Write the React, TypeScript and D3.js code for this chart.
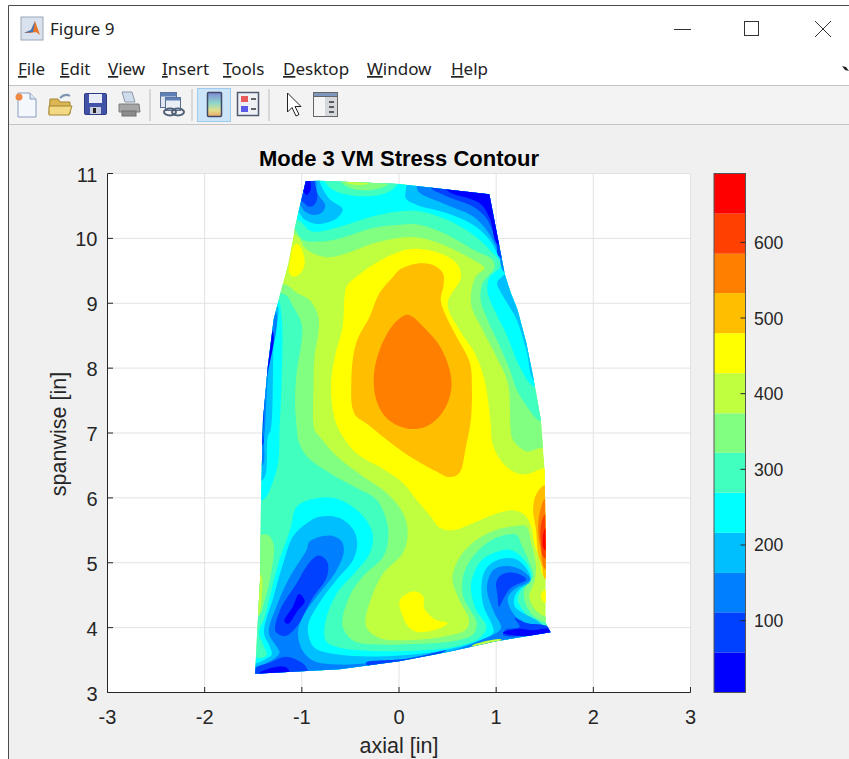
import React from "react";
import * as d3 from "d3";

type P = [number, number];

const menuItems = ["File", "Edit", "View", "Insert", "Tools", "Desktop", "Window", "Help"];
const menuX = [18, 60, 108, 162, 223, 283, 367, 451];
const xTicks = [-3, -2, -1, 0, 1, 2, 3];
const yTicks = [3, 4, 5, 6, 7, 8, 9, 10, 11];
const cbarTicks = [100, 200, 300, 400, 500, 600];
const levelEdges = [5, 58, 111, 163, 216, 269, 322, 374, 427, 480, 533, 585, 638, 691];
const levelColors = ["#0000ff", "#0040ff", "#0080ff", "#00bfff", "#00ffff", "#40ffbf", "#80ff80", "#bfff40", "#ffff00", "#ffbf00", "#ff8000", "#ff4000", "#ff0000"];

const bladeOutline: P[] = [[-0.96,10.88],[-0.82,10.89],[-0.51,10.87],[0,10.84],[0.93,10.68],[0.98,10.29],[1.09,9.44],[1.15,9.16],[1.22,8.9],[1.31,8.39],[1.38,7.87],[1.46,7.21],[1.5,6.44],[1.51,5.15],[1.51,4.07],[1.56,3.93],[1,3.79],[0.49,3.62],[0,3.48],[-0.61,3.36],[-1.48,3.29],[-1.46,3.92],[-1.43,4.74],[-1.42,6],[-1.4,7.2],[-1.35,8.03],[-1.29,8.75],[-1.19,9.34],[-1.14,9.62],[-1.07,10.18]];

const yellowMain: P[] = [[-0.54,9.26],[-0.44,9.41],[-0.13,9.71],[0.14,9.84],[0.42,9.77],[0.59,9.62],[0.64,9.41],[0.5,9],[0.62,8.59],[0.78,8.23],[0.88,7.82],[0.94,7.21],[0.97,6.8],[1.1,6.49],[1.27,6.36],[1.5,6.46],[1.79,6.54],[1.79,4.79],[1.49,4.79],[1.45,5.05],[1.39,5.31],[1.36,5.56],[1.29,5.74],[1.17,5.81],[0.97,5.74],[0.76,5.61],[0.55,5.5],[0.42,5.54],[0.32,5.72],[0.18,5.97],[0.04,6.23],[-0.16,6.44],[-0.44,6.69],[-0.58,6.95],[-0.66,7.21],[-0.7,7.72],[-0.66,8.18],[-0.58,8.64],[-0.56,9.11]];
const amberMain: P[] = [[0.01,9.52],[0.18,9.61],[0.35,9.59],[0.45,9.47],[0.46,9.29],[0.43,9.05],[0.47,8.85],[0.59,8.49],[0.73,8.08],[0.75,7.72],[0.74,7.21],[0.69,6.8],[0.62,6.38],[0.52,6.32],[0.38,6.41],[0.08,6.67],[-0.13,6.9],[-0.32,7.13],[-0.46,7.3],[-0.49,7.82],[-0.44,8.39],[-0.3,8.8],[-0.2,9.16],[-0.06,9.41]];
const orangeMain: P[] = [[0.07,8.82],[0.13,8.8],[0.28,8.59],[0.42,8.34],[0.52,7.98],[0.54,7.72],[0.5,7.46],[0.4,7.23],[0.28,7.1],[0.14,7.06],[0.01,7.1],[-0.13,7.23],[-0.23,7.49],[-0.26,7.87],[-0.2,8.28],[-0.06,8.67]];
const yellowBumpTop: P[] = [[-1.05,9.92],[-1,9.83],[-0.97,9.62],[-1.01,9.47],[-1.08,9.41],[-1.13,9.47],[-1.12,9.67],[-1.09,9.87]];
const yellowBumpLow: P[] = [[0.01,4.43],[0.16,4.56],[0.25,4.48],[0.26,4.3],[0.38,4.12],[0.5,4.07],[0.42,3.99],[0.21,3.93],[0.11,3.99],[0.04,4.17]];
const yellowBumpEdge: P[] = [[1.51,4.59],[1.46,4.48],[1.51,4.38],[1.7,4.48]];
const stripAmber: P[] = [[1.5,6.2],[1.41,6.05],[1.38,5.82],[1.41,5.51],[1.43,5.15],[1.47,4.95],[1.51,4.74],[1.79,4.74],[1.79,6.2]];
const stripOrange: P[] = [[1.51,6],[1.46,5.84],[1.43,5.51],[1.46,5.2],[1.51,4.89],[1.79,4.89],[1.79,6]];
const stripFlame: P[] = [[1.51,5.75],[1.46,5.56],[1.46,5.31],[1.5,5.07],[1.79,5.07],[1.79,5.75]];
const stripRed: P[] = [[1.52,5.55],[1.48,5.38],[1.5,5.2],[1.79,5.2],[1.79,5.55]];

const greenTop: P[] = [[-1.07,10.06],[-0.95,9.83],[-0.75,9.71],[-0.54,9.77],[-0.27,9.92],[0.01,10.01],[0.21,10.01],[0.49,9.88],[0.76,9.67],[0.88,9.54],[0.79,9.41],[0.74,9],[0.86,8.59],[1,8.18],[1.12,7.77],[1.15,7.05],[1.17,6.9],[1.31,6.72],[1.46,6.77],[1.8,6.77],[1.8,11.2],[-1.5,11.2],[-1.5,10.06]];
const greenLow: P[] = [[-1.5,9.29],[-1.17,9.29],[-1.05,9.16],[-0.92,9.05],[-0.83,8.8],[-0.83,8.54],[-0.87,8.18],[-0.88,7.72],[-0.87,7.05],[-0.82,6.95],[-0.64,6.64],[-0.37,6.33],[-0.13,6.08],[0.04,5.77],[0.09,5.46],[0.04,5.15],[-0.16,4.84],[-0.28,4.48],[-0.34,4.02],[-0.2,3.84],[0.14,3.81],[0.49,3.87],[0.69,3.97],[0.72,4.12],[0.62,4.43],[0.55,4.74],[0.61,5.05],[0.76,5.31],[0.97,5.49],[1.17,5.56],[1.31,5.56],[1.36,5.31],[1.41,4.95],[1.39,4.69],[1.34,4.48],[1.4,4.28],[1.51,4.17],[1.8,4.17],[1.8,2.9],[-1.6,2.9],[-1.6,9.29]];
const mintTop: P[] = [[-1.09,10.16],[-0.99,9.98],[-0.82,9.95],[-0.61,10],[-0.27,10.16],[0.01,10.21],[0.21,10.21],[0.49,10.06],[0.76,9.83],[0.97,9.66],[0.98,9.54],[0.86,9.31],[0.84,9.05],[0.91,8.75],[1.02,8.39],[1.14,7.98],[1.21,7.67],[1.34,7.36],[1.46,7.18],[1.8,7.18],[1.8,11.2],[-1.5,11.2],[-1.5,10.16]];
const mintLow: P[] = [[-1.5,9.2],[-1.17,9.13],[-1.09,8.95],[-1,8.67],[-1.01,8.34],[-1.05,7.98],[-1.07,7.46],[-1.05,7.05],[-1.04,6.9],[-0.95,6.64],[-0.71,6.38],[-0.47,6.18],[-0.23,5.97],[-0.13,5.66],[-0.11,5.41],[-0.16,5.1],[-0.37,4.79],[-0.51,4.48],[-0.58,4.02],[-0.46,3.79],[-0.16,3.74],[0.21,3.75],[0.55,3.79],[0.76,3.89],[0.8,4.07],[0.73,4.28],[0.66,4.48],[0.66,4.79],[0.74,5.05],[0.91,5.31],[1.1,5.43],[1.21,5.43],[1.26,5.28],[1.33,5.05],[1.38,4.79],[1.29,4.59],[1.3,4.38],[1.39,4.17],[1.53,4.07],[1.8,4.07],[1.8,2.9],[-1.6,2.9],[-1.6,9.2]];
const greenLobe: P[] = [[-1.42,5.43],[-1.35,5.43],[-1.29,5.28],[-1.31,4.89],[-1.38,4.43],[-1.45,4.17],[-1.6,4.17],[-1.6,5.43]];
const limeSliver: P[] = [[-1.43,4.84],[-1.41,4.53],[-1.46,4.17],[-1.6,4.17],[-1.6,4.84]];
const cyanTop: P[] = [[-1.05,10.29],[-0.9,10.11],[-0.61,10.18],[-0.27,10.34],[0.01,10.42],[0.21,10.42],[0.49,10.29],[0.76,10.06],[0.93,9.83],[1.05,9.59],[0.93,9.39],[0.91,9.18],[0.98,8.9],[1.1,8.54],[1.24,8.03],[1.39,7.72],[1.8,7.72],[1.8,11.2],[-1.5,11.2],[-1.5,10.29]];
const cyanLeft: P[] = [[-1.26,9.08],[-1.21,8.8],[-1.21,7.72],[-1.23,7.05],[-1.24,6.59],[-1.29,6.28],[-1.4,5.97],[-1.6,5.97],[-1.6,9.08]];
const cyanLow: P[] = [[-1.05,5.87],[-0.83,6],[-0.61,5.97],[-0.37,5.72],[-0.27,5.43],[-0.3,5.15],[-0.44,4.87],[-0.64,4.53],[-0.76,4.07],[-0.75,3.79],[-0.61,3.69],[-0.27,3.64],[0.25,3.65],[0.59,3.71],[0.83,3.84],[0.9,4.02],[0.79,4.28],[0.74,4.59],[0.76,4.79],[0.86,5.05],[1.14,5.2],[1.31,5],[1.36,4.74],[1.26,4.59],[1.22,4.43],[1.27,4.28],[1.41,4.07],[1.53,4.01],[1.8,4.01],[1.8,2.9],[-1.6,2.9],[-1.6,3.53],[-1.41,3.53],[-1.36,3.58],[-1.39,3.71],[-1.44,3.92],[-1.38,4.17],[-1.31,4.59],[-1.23,5.05],[-1.12,5.51]];
const islandMint: P[] = [[-0.79,10.95],[-0.68,10.75],[-0.41,10.65],[-0.13,10.7],[-0.01,10.85],[-0.01,11.1],[-0.79,11.1]];
const islandGreen: P[] = [[-0.64,10.95],[-0.51,10.78],[-0.27,10.75],[-0.1,10.85],[-0.1,11.1],[-0.64,11.1]];
const islandLime: P[] = [[-0.6,10.92],[-0.47,10.83],[-0.3,10.86],[-0.3,11.1],[-0.6,11.1]];

const skyTopRight: P[] = [[0.08,11.06],[0.08,10.85],[0.07,10.62],[0.18,10.52],[0.49,10.39],[0.76,10.21],[0.93,9.98],[1.03,9.7],[1.09,9.47],[1.01,9.32],[1.07,9.11],[1.21,8.75],[1.31,8.28],[1.41,7.77],[1.8,7.77],[1.8,11.1]];
const azureTopRight: P[] = [[0.18,10.83],[0.2,10.72],[0.49,10.52],[0.76,10.34],[0.91,10.11],[1.02,9.8],[1.09,9.47],[1.5,9.47],[1.5,11.1],[0.18,11.1]];
const royalTopRight: P[] = [[0.32,10.8],[0.49,10.65],[0.76,10.49],[0.9,10.31],[1,9.95],[1.03,9.72],[1.3,9.72],[1.3,11.1],[0.32,11.1]];
const blueTopRight: P[] = [[0.49,10.75],[0.73,10.61],[0.85,10.52],[0.94,10.29],[1.02,9.9],[1.3,9.9],[1.3,11.1],[0.49,11.1]];
const skyTopLeft: P[] = [[-0.82,10.9],[-0.78,10.75],[-0.71,10.6],[-0.58,10.45],[-0.64,10.31],[-0.83,10.22],[-0.97,10.29],[-1.05,10.42],[-1.4,10.42],[-1.4,11.1],[-0.82,11.1]];
const azureTopLeft: P[] = [[-0.85,10.9],[-0.84,10.7],[-0.76,10.52],[-0.78,10.42],[-0.87,10.36],[-0.97,10.42],[-1.03,10.52],[-1.4,10.52],[-1.4,11.1],[-0.85,11.1]];
const royalTopLeft: P[] = [[-0.87,10.88],[-0.84,10.65],[-0.87,10.52],[-0.93,10.49],[-1,10.57],[-1.4,10.57],[-1.4,11.1],[-0.87,11.1]];
const blueTopLeft: P[] = [[-0.91,10.88],[-0.91,10.75],[-0.95,10.67],[-0.99,10.72],[-1.2,10.72],[-1.2,11.1],[-0.91,11.1]];
const skyLeft: P[] = [[-1.26,8.98],[-1.29,8.39],[-1.32,7.05],[-1.35,6.95],[-1.4,6.28],[-1.6,6.28],[-1.6,8.98]];
const azureLeft: P[] = [[-1.28,8.9],[-1.35,7.87],[-1.38,7.05],[-1.39,6.9],[-1.41,6.49],[-1.6,6.49],[-1.6,8.9]];
const blueLeft: P[] = [[-1.31,8.59],[-1.37,7.77],[-1.4,7.05],[-1.41,6.8],[-1.6,6.8],[-1.6,8.59]];
const skyLow: P[] = [[-0.95,5.61],[-0.82,5.71],[-0.61,5.69],[-0.47,5.51],[-0.43,5.31],[-0.47,5.05],[-0.64,4.74],[-0.82,4.38],[-0.93,4.07],[-0.93,3.87],[-0.87,3.69],[-0.61,3.58],[-0.13,3.56],[0.42,3.64],[0.81,3.79],[0.97,3.92],[0.95,4.07],[0.87,4.33],[0.85,4.69],[0.9,4.92],[1.03,5.05],[1.21,5.05],[1.34,4.84],[1.35,4.71],[1.24,4.59],[1.19,4.48],[1.19,4.33],[1.27,4.23],[1.41,4.12],[1.53,4],[1.8,4],[1.8,2.9],[-1.6,2.9],[-1.6,3.45],[-1.47,3.45],[-1.38,3.51],[-1.31,3.58],[-1.33,3.71],[-1.39,3.92],[-1.29,4.48],[-1.19,5],[-1.09,5.41]];
const azureLow: P[] = [[-0.92,5.33],[-0.71,5.42],[-0.59,5.33],[-0.57,5.15],[-0.66,4.84],[-0.82,4.53],[-0.99,4.17],[-1.04,3.92],[-0.99,3.64],[-0.87,3.48],[-0.61,3.43],[-0.13,3.48],[0.49,3.62],[0.83,3.8],[1.05,3.99],[0.98,4.23],[0.91,4.53],[0.91,4.69],[0.97,4.89],[1.1,4.95],[1.26,4.89],[1.35,4.74],[1.19,4.59],[1.12,4.46],[1.15,4.28],[1.24,4.12],[1.41,4.02],[1.55,3.96],[1.8,3.96],[1.8,2.9],[-1.6,2.9],[-1.6,3.4],[-1.47,3.4],[-1.33,3.48],[-1.23,3.61],[-1.26,3.71],[-1.34,3.92],[-1.26,4.33],[-1.12,4.79],[-0.95,5.2]];
const royalBasin: P[] = [[-0.83,5.11],[-0.74,5.02],[-0.74,4.79],[-0.9,4.43],[-1.05,4.02],[-1.17,3.87],[-1.27,3.94],[-1.23,4.25],[-1.05,4.69],[-0.94,4.97]];
const blueBasin: P[] = [[-1.03,4.52],[-0.97,4.41],[-1.05,4.25],[-1.14,4.06],[-1.18,4.1],[-1.09,4.33]];
const royalCorner: P[] = [[-1.47,3.38],[-1.33,3.46],[-1.17,3.55],[-1.05,3.5],[-0.95,3.38],[-0.95,3],[-1.6,3]];
const blueCorner: P[] = [[-1.43,3.31],[-1.2,3.4],[-1.14,3.36],[-1.14,3],[-1.6,3]];
const royalEdge: P[] = [[-0.34,3.46],[0.08,3.52],[0.49,3.65],[0.28,3.53],[-0.3,3.4]];
const royalRight: P[] = [[1,4.69],[1.04,4.8],[1.15,4.85],[1.27,4.8],[1.31,4.74],[1.15,4.61],[1.07,4.43],[1.03,4.32],[1.01,4.53]];
const royalFoot: P[] = [[1.19,4.15],[1.31,4.07],[1.53,4.02],[1.57,3.93],[1.31,3.87],[1.07,3.89],[1.1,3.97],[1.24,4.01]];
const blueFoot: P[] = [[1.07,3.92],[1.21,3.98],[1.38,3.96],[1.55,3.98],[1.57,3.93],[1.27,3.87]];
const limeEdge: P[] = [[0.75,3.72],[1.05,3.82],[1.05,3.785],[0.75,3.69]];

// paint order: [colour index, ring]
const layers: [number, P[]][] = [
  [8, yellowMain], [9, amberMain], [10, orangeMain], [8, yellowBumpTop], [8, yellowBumpLow], [8, yellowBumpEdge],
  [9, stripAmber], [10, stripOrange], [11, stripFlame], [12, stripRed],
  [6, greenTop], [6, greenLow], [5, mintTop], [5, mintLow], [6, greenLobe], [7, limeSliver],
  [4, cyanTop], [4, cyanLeft], [4, cyanLow], [5, islandMint], [6, islandGreen], [7, islandLime],
  [3, skyTopRight], [2, azureTopRight], [1, royalTopRight], [0, blueTopRight],
  [3, skyTopLeft], [2, azureTopLeft], [1, royalTopLeft], [0, blueTopLeft],
  [3, skyLeft], [2, azureLeft], [0, blueLeft],
  [3, skyLow], [2, azureLow], [1, royalBasin], [0, blueBasin], [1, royalCorner], [0, blueCorner], [1, royalEdge], [1, royalRight], [1, royalFoot], [0, blueFoot], [7, limeEdge],
];

const font = "'Liberation Sans', Arial, sans-serif";
const ink = "#262626";

const x = d3.scaleLinear().domain([-3, 3]).range([107.5, 690.5]);
const y = d3.scaleLinear().domain([3, 11]).range([692.5, 173.5]);
const c = d3.scaleLinear().domain([5, 691]).range([692.5, 173.5]);

const smooth = d3.line<P>().x((d) => x(d[0])).y((d) => y(d[1])).curve(d3.curveCatmullRomClosed.alpha(0.5));
const straight = d3.line<P>().x((d) => x(d[0])).y((d) => y(d[1])).curve(d3.curveLinearClosed);

function Toolbar() {
  return (
    <g>
      <path d="M18 93 h12 l6 6 v18 h-18 z" fill="#f4f8fd" stroke="#8a9cc0" />
      <path d="M30 93 v6 h6" fill="#dde6f4" stroke="#8a9cc0" />
      <circle cx={19} cy={97} r={3.5} fill="#ef8a45" />
      <path d="M50 99 h8 l2 3 h10 v12 h-21 z" fill="#dcb654" stroke="#a2852f" />
      <path d="M49 106 h23 l-3 9 h-20 z" fill="#f3d983" stroke="#a2852f" />
      <path d="M60 98 q5 -5 10 -2" fill="none" stroke="#7e93ad" strokeWidth={2} />
      <rect x={84.5} y={93.5} width={22} height={21} rx={1} fill="#4152a8" stroke="#2e3a80" />
      <rect x={89} y={94} width={13} height={9} fill="#e9edf7" />
      <rect x={90} y={107} width={11} height={7} fill="#c8cde0" />
      <rect x={93} y={108} width={3} height={5} fill="#222" />
      <path d="M122 92 h10 l3 10 h-10 z" fill="#cfdcec" stroke="#8d99a8" />
      <path d="M119 104 h20 l1 8 h-21 z" fill="#a5a5a5" stroke="#7a7a7a" />
      <rect x={122} y={111} width={14} height={5} fill="#8c8c8c" stroke="#6e6e6e" />
      <rect x={160.5} y={92.5} width={16} height={15} fill="#dfe6f2" stroke="#5a6d8c" />
      <rect x={160.5} y={92.5} width={16} height={4} fill="#5f80b5" />
      <rect x={165.5} y={97.5} width={15} height={13} fill="#e9eef6" stroke="#5a6d8c" />
      <rect x={165.5} y={97.5} width={15} height={3} fill="#5f80b5" />
      <ellipse cx={170} cy={112} rx={6} ry={3.5} fill="none" stroke="#4f6078" strokeWidth={2} />
      <ellipse cx={178} cy={112} rx={6} ry={3.5} fill="none" stroke="#4f6078" strokeWidth={2} />
      <rect x={197.5} y={88.5} width={33} height={33} fill="#cce4f7" stroke="#9ccbee" />
      <defs>
        <linearGradient id="tb" x1="0" y1="0" x2="0" y2="1">
          <stop offset="0" stopColor="#7f8ad8" />
          <stop offset="0.45" stopColor="#8fd8c8" />
          <stop offset="0.75" stopColor="#e3de8a" />
          <stop offset="1" stopColor="#f0a868" />
        </linearGradient>
      </defs>
      <rect x={207.5} y={92.5} width={14} height={24} rx={1} fill="url(#tb)" stroke="#3f4a66" strokeWidth={1.5} />
      <rect x={237.5} y={92.5} width={21} height={23} fill="#eef0f5" stroke="#4f5a70" strokeWidth={1.5} />
      <rect x={241} y={96} width={7} height={6} fill="#e65a5a" />
      <rect x={241} y={106} width={7} height={6} fill="#5a5ae6" />
      <path d="M251 99 h5 M251 109 h5" stroke="#333" strokeWidth={1.5} />
      <path d="M287.5 93 v19 l4.5 -4.5 l4 8.5 l3 -1.5 l-4 -8 h6 z" fill="#fff" stroke="#222" />
      <rect x={313.5} y={92.5} width={24} height={24} fill="#d4d7dc" stroke="#666" />
      <rect x={313.5} y={92.5} width={24} height={4} fill="#7f97bd" stroke="#666" />
      <rect x={314} y={97} width={11} height={19} fill="#f5f5f5" />
      <path d="M329 102 h5 M329 107 h5 M329 112 h5" stroke="#333" strokeWidth={1.5} />
      <path d="M150 89 v32 M192 89 v32 M269 89 v32" stroke="#bdbdbd" />
    </g>
  );
}

export default function App() {
  const uiFont = "'Noto Sans', 'Open Sans', sans-serif";
  return (
    <svg width={849} height={759} viewBox="0 0 849 759" style={{ position: "absolute", left: 0, top: 0, background: "#fff" }}>
      <defs>
        <clipPath id="blade"><path d={straight(bladeOutline) ?? ""} /></clipPath>
      </defs>

      {/* window chrome */}
      <rect x={9} y={125} width={840} height={634} fill="#f0f0f0" />
      <rect x={9} y={86} width={840} height={39} fill="#f3f3f3" />
      <path d="M849 5.5 H8.5 V759" fill="none" stroke="#4a4a4a" />
      <path d="M9 85.5 H849 M9 124.5 H849" stroke="#c4c4c4" />
      <g>
        <rect x={21} y={17} width={22} height={23} fill="#d9e2ee" stroke="#9aa7b8" />
        <path d="M24 33 l7 -3 l4 -9 l5 14 l-4 -3 l-6 1 z" fill="#e8742a" />
        <path d="M24 33 l7 -3 l4 -9 l-2 11 z" fill="#3b78c4" />
      </g>
      <text x={50} y={35} fontFamily={uiFont} fontSize={17} fill="#222">Figure 9</text>
      <path d="M674 29.5 h17" stroke="#333" />
      <rect x={744.5} y={21.5} width={14} height={14} fill="none" stroke="#333" />
      <path d="M815 21 l16 16 M831 21 l-16 16" stroke="#333" />
      {menuItems.map((m, i) => (
        <text key={m} x={menuX[i]} y={75} fontFamily={uiFont} fontSize={17} fill="#222">
          <tspan textDecoration="underline">{m[0]}</tspan>{m.slice(1)}
        </text>
      ))}
      <path d="M842 66 l4 1 l3 4 l-4 -1 z" fill="#222" />
      <Toolbar />

      {/* plot */}
      <text x={399} y={166} textAnchor="middle" fontFamily={font} fontWeight="bold" fontSize={22} fill="#000">Mode 3 VM Stress Contour</text>
      <rect x={x(-3)} y={y(11)} width={x(3) - x(-3)} height={y(3) - y(11)} fill="#fff" />
      {xTicks.map((t) => <line key={t} x1={x(t)} x2={x(t)} y1={y(3)} y2={y(11)} stroke="#e2e2e2" />)}
      {yTicks.map((t) => <line key={t} x1={x(-3)} x2={x(3)} y1={y(t)} y2={y(t)} stroke="#e2e2e2" />)}

      <g clipPath="url(#blade)">
        <path d={straight(bladeOutline) ?? ""} fill={levelColors[7]} />
        {layers.map(([k, ring], i) => <path key={i} d={smooth(ring) ?? ""} fill={levelColors[k]} />)}
      </g>

      <path d={`M${x(-3)} ${y(11)} V${y(3)} H${x(3)}`} fill="none" stroke={ink} />
      {xTicks.map((t) => (
        <g key={t}>
          <line x1={x(t)} x2={x(t)} y1={y(3)} y2={y(3) - 5.5} stroke={ink} />
          <text x={x(t)} y={724} textAnchor="middle" fontFamily={font} fontSize={20} fill={ink}>{t}</text>
        </g>
      ))}
      {yTicks.map((t) => (
        <g key={t}>
          <line x1={x(-3)} x2={x(-3) + 5.5} y1={y(t)} y2={y(t)} stroke={ink} />
          <text x={97.5} y={y(t) + 8} textAnchor="end" fontFamily={font} fontSize={20} fill={ink}>{t}</text>
        </g>
      ))}
      <text x={399} y={753} textAnchor="middle" fontFamily={font} fontSize={21.5} fill={ink}>axial [in]</text>
      <text transform="translate(66 434) rotate(-90)" textAnchor="middle" fontFamily={font} fontSize={21.5} fill={ink}>spanwise [in]</text>

      {/* colorbar */}
      {levelColors.map((col, i) => (
        <rect key={col} x={714} width={31.5} y={c(levelEdges[i + 1])} height={c(levelEdges[i]) - c(levelEdges[i + 1])} fill={col} />
      ))}
      <rect x={714} y={173.5} width={31.5} height={519} fill="none" stroke="#555" />
      {cbarTicks.map((t) => (
        <g key={t}>
          <line x1={740.5} x2={745.5} y1={c(t)} y2={c(t)} stroke={ink} />
          <text x={754} y={c(t) + 6.5} fontFamily={font} fontSize={17.6} fill={ink}>{t}</text>
        </g>
      ))}
    </svg>
  );
}
